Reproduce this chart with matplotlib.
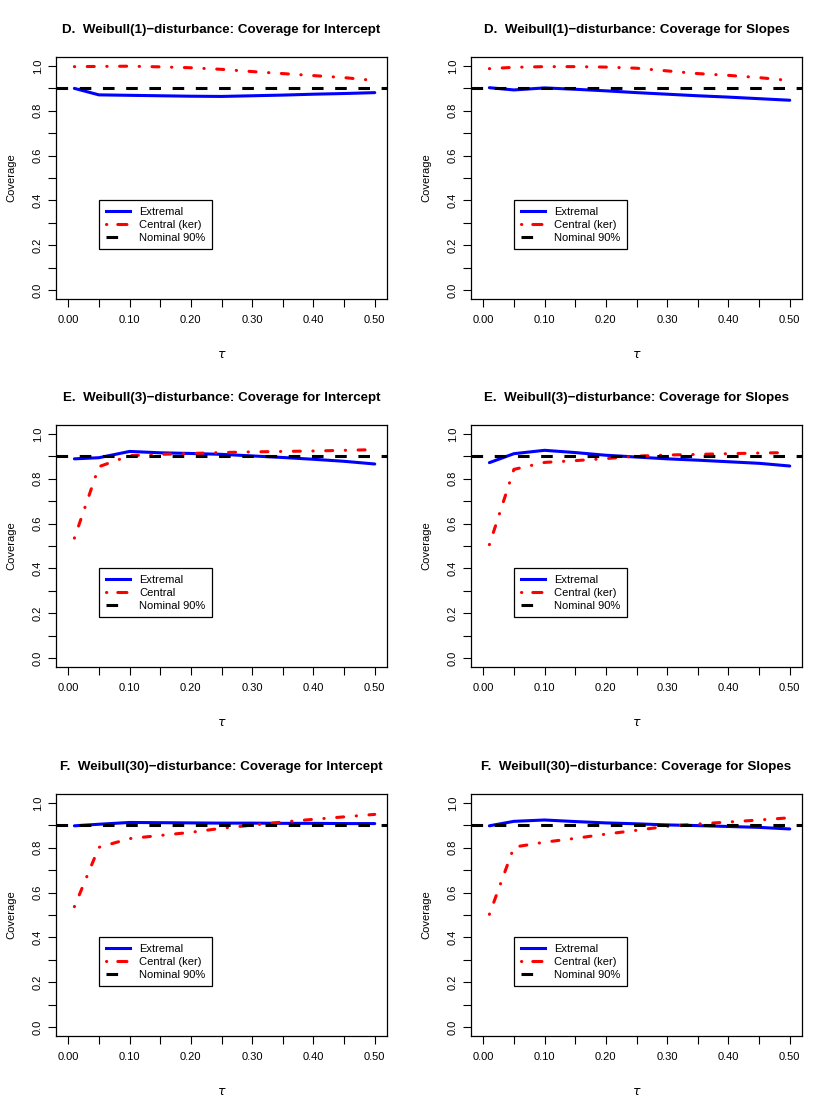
import numpy as np
import matplotlib
matplotlib.use('Agg')
import matplotlib.pyplot as plt
from matplotlib.lines import Line2D
from matplotlib.ticker import MultipleLocator, FormatStrFormatter

plt.rcParams['font.family'] = ['Liberation Sans', 'DejaVu Sans']

tau = [0.01, 0.05, 0.10, 0.15, 0.20, 0.25, 0.30, 0.35, 0.40, 0.45, 0.50]

# D. Weibull(1)
ext_d_int = [0.900, 0.871, 0.869, 0.867, 0.865, 0.864, 0.867, 0.870, 0.874, 0.877, 0.881]
cen_d_int = [0.997, 0.998, 0.999, 0.996, 0.992, 0.985, 0.975, 0.966, 0.957, 0.948, 0.935]
ext_d_slo = [0.903, 0.893, 0.902, 0.896, 0.889, 0.881, 0.874, 0.867, 0.861, 0.854, 0.847]
cen_d_slo = [0.988, 0.994, 0.997, 0.997, 0.995, 0.990, 0.978, 0.966, 0.958, 0.948, 0.935]

# E. Weibull(3)
ext_e_int = [0.889, 0.894, 0.922, 0.916, 0.913, 0.909, 0.902, 0.895, 0.887, 0.878, 0.866]
cen_e_int = [0.535, 0.854, 0.903, 0.909, 0.913, 0.917, 0.920, 0.922, 0.924, 0.927, 0.930]
ext_e_slo = [0.872, 0.912, 0.927, 0.917, 0.905, 0.897, 0.889, 0.883, 0.876, 0.869, 0.857]
cen_e_slo = [0.506, 0.842, 0.873, 0.881, 0.890, 0.901, 0.906, 0.909, 0.912, 0.915, 0.917]

# F. Weibull(30)
ext_f_int = [0.898, 0.905, 0.913, 0.912, 0.911, 0.910, 0.910, 0.909, 0.909, 0.908, 0.908]
cen_f_int = [0.537, 0.802, 0.841, 0.855, 0.869, 0.887, 0.901, 0.915, 0.927, 0.938, 0.949]
ext_f_slo = [0.898, 0.918, 0.924, 0.917, 0.911, 0.907, 0.902, 0.899, 0.895, 0.891, 0.884]
cen_f_slo = [0.503, 0.803, 0.825, 0.842, 0.861, 0.878, 0.896, 0.906, 0.915, 0.924, 0.934]

titles = ['D.  Weibull(1)\u2212disturbance: Coverage for Intercept',
          'D.  Weibull(1)\u2212disturbance: Coverage for Slopes',
          'E.  Weibull(3)\u2212disturbance: Coverage for Intercept',
          'E.  Weibull(3)\u2212disturbance: Coverage for Slopes',
          'F.  Weibull(30)\u2212disturbance: Coverage for Intercept',
          'F.  Weibull(30)\u2212disturbance: Coverage for Slopes']
central_labels = ['Central (ker)', 'Central (ker)', 'Central', 'Central (ker)',
                  'Central (ker)', 'Central (ker)']
extremal = [ext_d_int, ext_d_slo, ext_e_int, ext_e_slo, ext_f_int, ext_f_slo]
central = [cen_d_int, cen_d_slo, cen_e_int, cen_e_slo, cen_f_int, cen_f_slo]

W, H = 830, 1107
fig = plt.figure(figsize=(W / 100, H / 100), dpi=100)

lefts = [56, 471]
tops = [57, 425, 794]
bw, bh = 331, 242
lw = 2.2
red_ls = (0, (0.1, 4.1, 2.3, 4.1))
blk_ls = (0, (3.8, 3.8))

for i in range(6):
    r, c = i // 2, i % 2
    ax = fig.add_axes([lefts[c] / W, (H - tops[r] - bh) / H, bw / W, bh / H])
    ax.plot(tau, extremal[i], color='#0000ff', lw=lw, solid_capstyle='round')
    ax.plot(tau, central[i], color='#ff0000', lw=lw,
            linestyle=red_ls, dash_capstyle='round')
    ax.axhline(0.9, color='black', lw=lw, linestyle=blk_ls)
    ax.set_xlim(-0.02, 0.52)
    ax.set_ylim(-0.04, 1.04)
    ax.xaxis.set_major_locator(MultipleLocator(0.1))
    ax.xaxis.set_minor_locator(MultipleLocator(0.05))
    ax.xaxis.set_major_formatter(FormatStrFormatter('%.2f'))
    ax.yaxis.set_major_locator(MultipleLocator(0.2))
    ax.yaxis.set_minor_locator(MultipleLocator(0.1))
    ax.yaxis.set_major_formatter(FormatStrFormatter('%.1f'))
    ax.tick_params(which='both', direction='out', length=5.5, width=0.8,
                   labelsize=8, pad=6)
    ax.tick_params(axis='y', which='both', pad=4)
    for lab in ax.get_yticklabels():
        lab.set_rotation(90)
        lab.set_va('center')
    for sp in ax.spines.values():
        sp.set_linewidth(0.9)
    ax.set_title(titles[i], fontsize=9.6, fontweight='bold', pad=17)
    ax.set_ylabel('Coverage', fontsize=8, labelpad=12)
    ax.set_xlabel(r'$\tau$', fontsize=9, labelpad=17)

    # proxy handles so the short legend samples look like R's
    handles = [Line2D([], [], color='#0000ff', lw=lw),
               Line2D([], [], color='#ff0000', lw=lw,
                      linestyle=(0, (0.1, 3.6, 3.0, 10)), dash_capstyle='round'),
               Line2D([], [], color='black', lw=lw, linestyle=(0, (3.8, 10)))]
    labels = ['Extremal', central_labels[i], 'Nominal 90%']
    leg = ax.legend(handles, labels, loc='upper left', bbox_to_anchor=(0.05, 0.4),
                    bbox_transform=ax.transData, borderaxespad=0,
                    fontsize=8, frameon=True, fancybox=False, framealpha=1,
                    edgecolor='black', handlelength=2.2, handletextpad=0.8,
                    labelspacing=0.25, borderpad=0.6)
    leg.get_frame().set_linewidth(0.9)

fig.savefig('out.png', dpi=100)
